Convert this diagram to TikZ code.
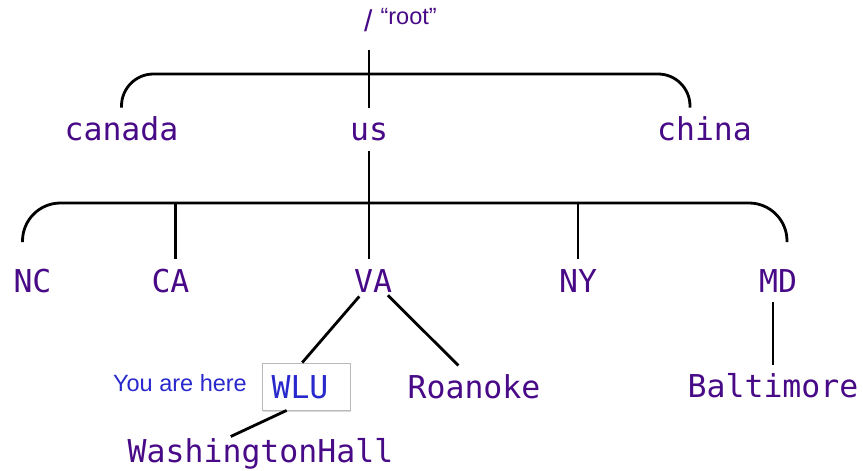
\documentclass[tikz,border=0pt]{standalone}
\usepackage{fontspec}
\setmainfont{Liberation Sans}
\newfontfamily\pathfont{DejaVu Sans Mono}
\usetikzlibrary{shadows}

\definecolor{dirpurple}{RGB}{72,10,135}
\definecolor{hereblue}{RGB}{40,40,205}

\tikzset{
    dir/.style={font={\pathfont\fontsize{31.5}{32}\selectfont},text=dirpurple,inner sep=0pt,
        text height=23pt,text depth=0pt,outer xsep=0pt,outer ysep=10pt},
    branch/.style={line width=2.8pt},
}

\begin{document}
\begin{tikzpicture}[x=1pt,y=-1pt]
        \useasboundingbox (0,0) rectangle (863,471);
        \node[anchor=base west,inner sep=0pt,text depth=0pt,text=dirpurple,font=\fontsize{23.5}{24}\selectfont] (root) at (364,24)
            {\raisebox{-7.5pt}{\fontsize{30}{30}\selectfont/}\hspace{8pt}“root”};
        \node[dir] (canada) at (121.5,129) {canada};
        \node[dir] (us) at (369,129) {us};
        \node[dir] (china) at (704.5,129) {china};
        \node[dir] (NC) at (32.5,280.5) {NC};
        \node[dir] (CA) at (170.5,280.5) {CA};
        \node[dir] (VA) at (373,280.5) {VA};
        \node[dir] (NY) at (578,280.5) {NY};
        \node[dir] (MD) at (778,280.5) {MD};
        \node[dir] (Roanoke) at (474,387) {Roanoke};
        \node[dir] (Baltimore) at (773,386) {Baltimore};
        \node[dir,outer ysep=3pt] (hall) at (260.5,451) {WashingtonHall};
        \node[dir,outer sep=0.4pt,draw=gray!55,line width=0.8pt,fill=white,text=hereblue,minimum width=88pt,minimum height=47pt,
            drop shadow={opacity=0.3,shadow xshift=1.2pt,shadow yshift=-1.8pt}] (WLU) at (306,386.5) {WLU\hspace*{12pt}};
        \node[inner sep=0pt,text height=16.8pt,text depth=0pt,text=hereblue,font=\fontsize{23.5}{24}\selectfont] (here) at (180,383.4) {You are here};
        \coordinate (fork1) at (369,74);
        \coordinate (fork2) at (369,203);
        \draw[branch,shorten <=26pt] (root.south -| us.north) -- (us.north);
        \draw[branch,rounded corners=32pt] (canada.north) |- (fork1) -| (china.124);
        \draw[branch] (us.south) -- (us.south |- VA.north);
        \draw[branch,rounded corners=38pt] ([shift={(-10pt,17pt)}]NC.north) |- (fork2) -| ([shift={(9pt,17pt)}]MD.north);
        \draw[branch] (CA.76 |- fork2) -- (CA.76);
        \draw[branch] (NY.north |- fork2) -- (NY.north);
        \draw[branch,shorten <=21pt] (VA.center) -- (WLU.99);
        \draw[branch,shorten <=21pt] (VA.center) -- (Roanoke.126);
        \draw[branch] (Baltimore.north |- MD.south) -- (Baltimore.north);
        \draw[branch] (WLU.-129) -- (hall.154.6);
\end{tikzpicture}
\end{document}
